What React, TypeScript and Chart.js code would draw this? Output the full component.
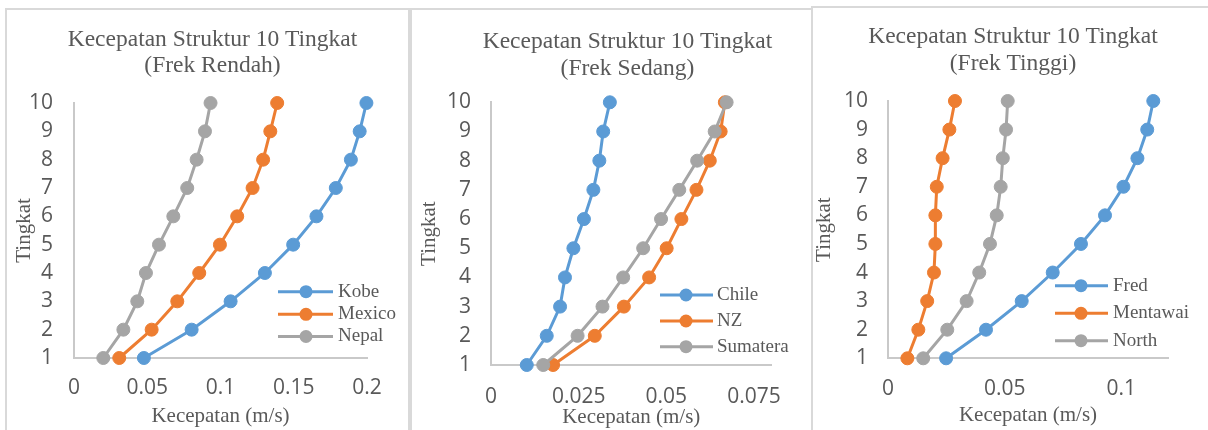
import React, { useEffect, useRef } from 'react';
import { Chart, registerables } from 'chart.js';

Chart.register(...registerables);

// ---------- data ----------
const floors = [1, 2, 3, 4, 5, 6, 7, 8, 9, 10];

const kobe = [0.0477, 0.0803, 0.1069, 0.1303, 0.1496, 0.1655, 0.1787, 0.189, 0.195, 0.1996];
const mexico = [0.0309, 0.053, 0.0705, 0.0855, 0.0996, 0.1114, 0.1219, 0.1291, 0.134, 0.1387];
const nepal = [0.02, 0.0337, 0.0432, 0.0491, 0.058, 0.0678, 0.0773, 0.0837, 0.0894, 0.0932];

const chile = [0.0102, 0.0159, 0.0197, 0.0211, 0.0235, 0.0265, 0.0292, 0.0309, 0.032, 0.0339];
const nz = [0.0177, 0.0296, 0.0379, 0.0451, 0.0501, 0.0543, 0.0586, 0.0624, 0.0655, 0.0667];
const sumatera = [0.0149, 0.0247, 0.0318, 0.0377, 0.0434, 0.0485, 0.0537, 0.0588, 0.0638, 0.0672];

const fred = [0.0249, 0.042, 0.0573, 0.0706, 0.0827, 0.093, 0.1009, 0.1069, 0.1111, 0.1137];
const mentawai = [0.0083, 0.013, 0.0168, 0.0197, 0.0203, 0.0203, 0.0209, 0.0234, 0.0263, 0.0287];
const north = [0.0151, 0.0254, 0.0337, 0.0391, 0.0437, 0.0466, 0.0483, 0.0492, 0.0506, 0.0513];

const xTicksRendah = [0, 0.05, 0.1, 0.15, 0.2];
const xTicksSedang = [0, 0.025, 0.05, 0.075];
const xTicksTinggi = [0, 0.05, 0.1];

const namesRendah = ['Kobe', 'Mexico', 'Nepal'];
const namesSedang = ['Chile', 'NZ', 'Sumatera'];
const namesTinggi = ['Fred', 'Mentawai', 'North'];

const titleMain = 'Kecepatan Struktur 10 Tingkat';
const xTitle = 'Kecepatan (m/s)';
const yTitle = 'Tingkat';

// ---------- style ----------
const TEXT = '#595959';
const AXIS = '#c9c9c9';
const BORDER = '#d9d9d9';
const COLORS = ['#5B9BD5', '#ED7D31', '#A5A5A5'];
const SERIF = '"Liberation Serif", "Times New Roman", serif';
const SANS = '"Open Sans", Lato, sans-serif';
const TITLE_SIZE = 23.5;
const AXIS_TITLE_SIZE = 21;
const TICK_SIZE = 21;
const LEGEND_SIZE = 19;

const fmt = (v: number) => String(parseFloat(Number(v).toFixed(4)));

type Panel = {
  names: string[];
  series: number[][];
  xTicks: number[];
  xMax: number;
  subtitle: string;
  ox: number; oy: number; w: number;
  box: { l: number; t: number; w: number };
  area: { l: number; r: number; t: number; b: number };
  yTitleX: number; xTitleY: number;
  yTickPad: number; xTickPad: number;
  title: { cx: number; y1: number; y2: number };
  legend: { x1: number; x2: number; mx: number; tx: number; ys: number[] };
};

const panels: Panel[] = [
  {
    names: namesRendah, series: [kobe, mexico, nepal], xTicks: xTicksRendah, xMax: 0.2,
    subtitle: '(Frek Rendah)',
    ox: 5, oy: 8, w: 405, box: { l: 5, t: 8, w: 405 },
    area: { l: 74, r: 367, t: 103, b: 358 },
    yTitleX: 24, xTitleY: 416.5, yTickPad: 21, xTickPad: 17.4,
    title: { cx: 212.5, y1: 45.5, y2: 71.7 },
    legend: { x1: 278, x2: 333, mx: 306, tx: 338, ys: [291.7, 314.3, 336.5] },
  },
  {
    names: namesSedang, series: [chile, nz, sumatera], xTicks: xTicksSedang, xMax: 0.08,
    subtitle: '(Frek Sedang)',
    ox: 410, oy: 8, w: 402, box: { l: 410, t: 8, w: 403 },
    area: { l: 491, r: 771.5, t: 102.3, b: 365 },
    yTitleX: 429, xTitleY: 417, yTickPad: 20, xTickPad: 19.5,
    title: { cx: 627.5, y1: 48, y2: 75 },
    legend: { x1: 660, x2: 713, mx: 686, tx: 717, ys: [295, 321, 346.7] },
  },
  {
    names: namesTinggi, series: [fred, mentawai, north], xTicks: xTicksTinggi, xMax: 0.12,
    subtitle: '(Frek Tinggi)',
    ox: 811, oy: 6, w: 397, box: { l: 811, t: 6, w: 420 },
    area: { l: 888, r: 1168, t: 101, b: 358.3 },
    yTitleX: 824.5, xTitleY: 415, yTickPad: 20, xTickPad: 18,
    title: { cx: 1013, y1: 43.3, y2: 70 },
    legend: { x1: 1055, x2: 1108, mx: 1081, tx: 1113, ys: [285.7, 313.3, 340.7] },
  },
];

function PanelChart({ p }: { p: Panel }) {
  const ref = useRef<HTMLCanvasElement | null>(null);
  const H = 430 - p.oy;

  useEffect(() => {
    if (!ref.current) return;
    const half = (AXIS_TITLE_SIZE * 1.2) / 2;
    const padLeft = p.yTitleX - p.ox - half;
    const yWidth = p.area.l - p.ox - padLeft;
    const padTop = p.area.t - p.oy;
    const padRight = p.w - (p.area.r - p.ox);
    const xBottom = p.xTitleY - p.oy + half;
    const xHeight = xBottom - (p.area.b - p.oy);
    const padBottom = H - xBottom;

    const overlay = {
      id: 'overlay' + p.ox,
      afterDraw(chart: any) {
        const ctx = chart.ctx as CanvasRenderingContext2D;
        ctx.save();
        ctx.fillStyle = TEXT;
        ctx.textAlign = 'center';
        ctx.textBaseline = 'alphabetic';
        ctx.font = `${TITLE_SIZE}px ${SERIF}`;
        ctx.fillText(titleMain, p.title.cx - p.ox, p.title.y1 - p.oy);
        ctx.fillText(p.subtitle, p.title.cx - p.ox, p.title.y2 - p.oy);
        p.names.forEach((n, i) => {
          const y = p.legend.ys[i] - p.oy;
          ctx.strokeStyle = COLORS[i];
          ctx.lineWidth = 3;
          ctx.beginPath();
          ctx.moveTo(p.legend.x1 - p.ox, y);
          ctx.lineTo(p.legend.x2 - p.ox, y);
          ctx.stroke();
          ctx.fillStyle = COLORS[i];
          ctx.beginPath();
          ctx.arc(p.legend.mx - p.ox, y, 6.5, 0, Math.PI * 2);
          ctx.fill();
          ctx.fillStyle = TEXT;
          ctx.textAlign = 'left';
          ctx.textBaseline = 'middle';
          ctx.font = `${LEGEND_SIZE}px ${SERIF}`;
          ctx.fillText(n, p.legend.tx - p.ox, y);
        });
        ctx.restore();
      },
    };

    const chart = new Chart(ref.current, {
      type: 'scatter',
      data: {
        datasets: p.series.map((s, i) => ({
          label: p.names[i],
          data: floors.map((f, j) => ({ x: s[j], y: f })),
          showLine: true,
          borderColor: COLORS[i],
          backgroundColor: COLORS[i],
          borderWidth: 3,
          pointRadius: 6.5,
          pointBorderWidth: 1,
          pointBorderColor: COLORS[i],
          pointBackgroundColor: COLORS[i],
          tension: 0,
          clip: false as any,
          order: 3 - i,
        })),
      },
      options: {
        responsive: false,
        animation: false,
        events: [],
        layout: { padding: { left: padLeft, top: padTop, right: padRight, bottom: padBottom } },
        plugins: { legend: { display: false }, title: { display: false }, tooltip: { enabled: false } },
        scales: {
          x: {
            type: 'linear',
            min: 0,
            max: p.xMax,
            grid: { display: false, drawTicks: false },
            border: { display: true, color: AXIS, width: 2 },
            ticks: {
              color: TEXT,
              font: { family: SANS, size: TICK_SIZE },
              padding: p.xTickPad,
              autoSkip: false,
              maxRotation: 0,
              callback: (v: any) => fmt(v),
            },
            afterBuildTicks: (s: any) => {
              s.ticks = p.xTicks.map((v) => ({ value: v }));
            },
            afterFit: (s: any) => {
              s.height = xHeight;
            },
            title: {
              display: true,
              text: xTitle,
              color: TEXT,
              font: { family: SERIF, size: AXIS_TITLE_SIZE, lineHeight: 1.2 },
              padding: 0,
            },
          },
          y: {
            type: 'linear',
            min: 1,
            max: 10,
            grid: { display: false, drawTicks: false },
            border: { display: true, color: AXIS, width: 2 },
            ticks: {
              color: TEXT,
              font: { family: SANS, size: TICK_SIZE },
              padding: p.yTickPad,
              autoSkip: false,
              callback: (v: any) => fmt(v),
            },
            afterBuildTicks: (s: any) => {
              s.ticks = floors.map((v) => ({ value: v }));
            },
            afterFit: (s: any) => {
              s.width = yWidth;
            },
            title: {
              display: true,
              text: yTitle,
              color: TEXT,
              font: { family: SERIF, size: AXIS_TITLE_SIZE, lineHeight: 1.2 },
              padding: 0,
            },
          },
        },
      },
      plugins: [overlay],
    } as any);
    return () => chart.destroy();
  }, []);

  return (
    <>
      <canvas
        ref={ref}
        width={p.w}
        height={H}
        style={{ position: 'absolute', left: p.ox, top: p.oy, width: p.w, height: H }}
      />
      <div
        style={{
          position: 'absolute',
          left: p.box.l,
          top: p.box.t,
          width: p.box.w,
          height: 460,
          border: `2px solid ${BORDER}`,
          boxSizing: 'border-box',
          pointerEvents: 'none',
        }}
      />
    </>
  );
}

export default function App() {
  return (
    <div
      style={{
        position: 'fixed',
        left: 0,
        top: 0,
        width: 1208,
        height: 430,
        background: '#fff',
        overflow: 'hidden',
      }}
    >
      {panels.map((p, i) => (
        <PanelChart key={i} p={p} />
      ))}
    </div>
  );
}
